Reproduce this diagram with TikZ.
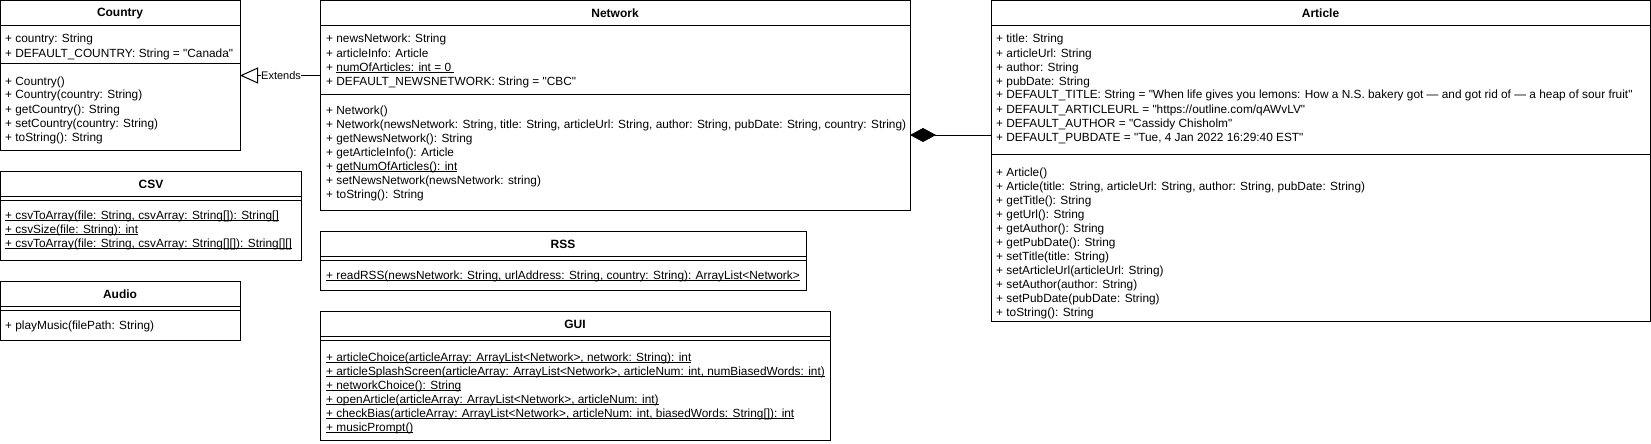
\documentclass[tikz,border=0pt]{standalone}
\usepackage{fontspec}
\setmainfont{Liberation Sans}[Ligatures=TeXOff]
\usetikzlibrary{arrows.meta}
\newcommand\myul[1]{\setbox0\hbox{#1}\rlap{\rule[-2pt]{\wd0}{0.8pt}}\box0}
\newcommand\classrows[4]{\foreach \lin [count=\i] in {#4} {\node[rowtext] (#1-\i) at (#2,{#3+14*(\i-1)}) {\lin};}}
\begin{document}
\begin{tikzpicture}[x=1pt,y=-1pt,
  box/.style={draw, line width=1pt, inner sep=0pt, outer sep=0pt, anchor=north west},
  ctitle/.style={font=\bfseries\fontsize{12}{14}\selectfont, inner sep=0pt, anchor=center},
  rowtext/.style={font=\fontsize{11.85}{14}\selectfont, inner sep=0pt, anchor=base west},
  sepline/.style={line width=1pt}]
\useasboundingbox (0,0) rectangle (1651,444);

% ---------- Country
\node[box, minimum width=239.5pt, minimum height=150pt] (country) at (0.5,0.5) {};
\node[ctitle] (country-t) at (120,13.5) {Country};
\draw[sepline] (country.west |- 0,26) -- (country.east |- 0,26);
\draw[sepline] (country.west |- 0,64) -- (country.east |- 0,64);
\classrows{country-a}{5}{43}{{+ country: String},{+ DEFAULT\_COUNTRY: String = "Canada"}}
\classrows{country-m}{5}{85}{{+ Country()},{+ Country(country: String)},{+ getCountry(): String},{+ setCountry(country: String)},{+ toString(): String}}

% ---------- CSV
\node[box, minimum width=300.5pt, minimum height=89pt] (csv) at (0.5,171) {};
\node[ctitle] (csv-t) at (151,184) {CSV};
\draw[sepline] (csv.west |- 0,196) -- (csv.east |- 0,196);
\draw[sepline] (csv.west |- 0,200) -- (csv.east |- 0,200);
\classrows{csv-m}{5}{219}{{\myul{+ csvToArray(file: String, csvArray: String[]): String[]}},{\myul{+ csvSize(file: String): int}},{\myul{+ csvToArray(file: String, csvArray: String[][]): String[][]}}}

% ---------- Audio
\node[box, minimum width=239.5pt, minimum height=59pt] (audio) at (0.5,281) {};
\node[ctitle] (audio-t) at (120,294) {Audio};
\draw[sepline] (audio.west |- 0,306) -- (audio.east |- 0,306);
\draw[sepline] (audio.west |- 0,310) -- (audio.east |- 0,310);
\classrows{audio-m}{5}{329}{{+ playMusic(filePath: String)}}

% ---------- Network
\node[box, minimum width=590pt, minimum height=209.5pt] (network) at (320,0.5) {};
\node[ctitle] (network-t) at (615,13.5) {Network};
\draw[sepline] (network.west |- 0,26) -- (network.east |- 0,26);
\draw[sepline] (network.west |- 0,94) -- (network.east |- 0,94);
\classrows{network-a}{326}{43}{{+ newsNetwork: String},{+ articleInfo: Article},{+ \myul{numOfArticles: int = 0\ }},{+ DEFAULT\_NEWSNETWORK: String = "CBC"}}
\classrows{network-m}{326}{114}{{+ Network()},{+ Network(newsNetwork: String, title: String, articleUrl: String, author: String, pubDate: String, country: String)},{+ getNewsNetwork(): String},{+ getArticleInfo(): Article},{+ \myul{getNumOfArticles(): int}},{+ setNewsNetwork(newsNetwork: string)},{+ toString(): String}}

% ---------- RSS
\node[box, minimum width=486pt, minimum height=59pt] (rss) at (320,231) {};
\node[ctitle] (rss-t) at (563,244) {RSS};
\draw[sepline] (rss.west |- 0,256) -- (rss.east |- 0,256);
\draw[sepline] (rss.west |- 0,260) -- (rss.east |- 0,260);
\classrows{rss-m}{326}{279}{{\myul{+ readRSS(newsNetwork: String, urlAddress: String, country: String): ArrayList<Network>}}}

% ---------- GUI
\node[box, minimum width=510pt, minimum height=129pt] (gui) at (320,311) {};
\node[ctitle] (gui-t) at (575,324) {GUI};
\draw[sepline] (gui.west |- 0,336) -- (gui.east |- 0,336);
\draw[sepline] (gui.west |- 0,340) -- (gui.east |- 0,340);
\classrows{gui-m}{326}{361}{{\myul{+ articleChoice(articleArray: ArrayList<Network>, network: String): int}},{\myul{+ articleSplashScreen(articleArray: ArrayList<Network>, articleNum: int, numBiasedWords: int)}},{\myul{+ networkChoice(): String}},{\myul{+ openArticle(articleArray: ArrayList<Network>, articleNum: int)}},{\myul{+ checkBias(articleArray: ArrayList<Network>, articleNum: int, biasedWords: String[]): int}},{\myul{+ musicPrompt()}}}

% ---------- Article
\node[box, minimum width=659pt, minimum height=320.5pt] (article) at (991,0.5) {};
\node[ctitle] (article-t) at (1320.5,13.5) {Article};
\draw[sepline] (article.west |- 0,26) -- (article.east |- 0,26);
\draw[sepline] (article.west |- 0,154) -- (article.east |- 0,154);
\classrows{article-a}{996}{43}{{+ title: String},{+ articleUrl: String},{+ author: String},{+ pubDate: String},{+ DEFAULT\_TITLE: String = "When life gives you lemons: How a N.S. bakery got — and got rid of — a heap of sour fruit"},{+ DEFAULT\_ARTICLEURL = "https://outline.com/qAWvLV"},{+ DEFAULT\_AUTHOR = "Cassidy Chisholm"},{+ DEFAULT\_PUBDATE = "Tue, 4 Jan 2022 16:29:40 EST"}}
\classrows{article-m}{996}{176}{{+ Article()},{+ Article(title: String, articleUrl: String, author: String, pubDate: String)},{+ getTitle(): String},{+ getUrl(): String},{+ getAuthor(): String},{+ getPubDate(): String},{+ setTitle(title: String)},{+ setArticleUrl(articleUrl: String)},{+ setAuthor(author: String)},{+ setPubDate(pubDate: String)},{+ toString(): String}}

% ---------- Connectors
\draw[line width=1pt, -{Triangle[open, length=18pt, width=16pt]}] (country.east -| network.west) -- (country.east);
\node[fill=white, inner sep=0.5pt, anchor=west, font=\fontsize{11}{13}\selectfont] (ext) at (260.5,75.5) {Extends};
\coordinate (comp) at (991,135);
\draw[line width=1pt, -{Diamond[length=26pt, width=14pt, fill=black]}] (comp) -- (comp -| network.east);
\end{tikzpicture}
\end{document}
